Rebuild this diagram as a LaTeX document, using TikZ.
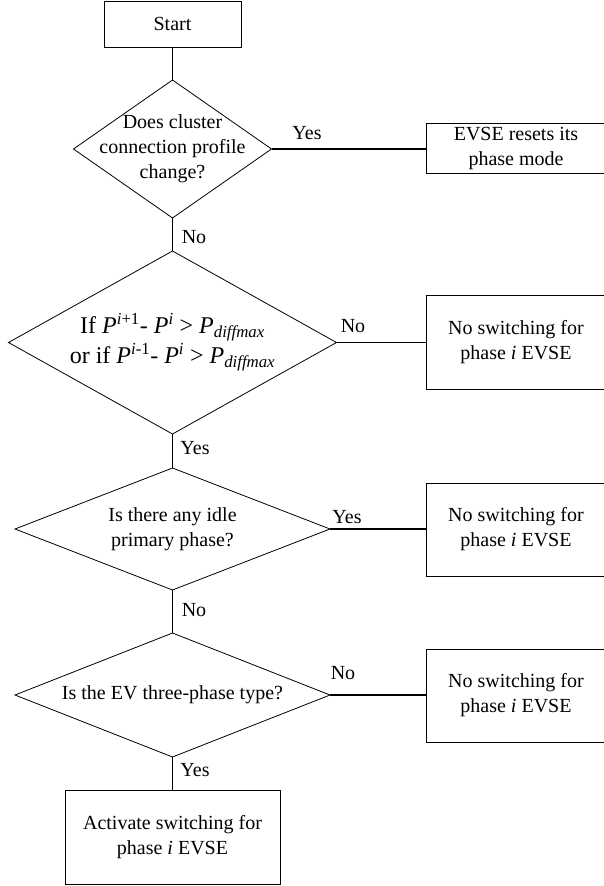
\documentclass[tikz,border=0pt]{standalone}
\usepackage{fontspec}
\setmainfont{Liberation Serif}
\usetikzlibrary{shapes.geometric}
\tikzset{box/.style = {draw, line width = 0.8pt, rectangle, inner sep = 0, align = center, font = \fontsize{20}{25}\selectfont}}
\tikzset{dia/.style = {draw, line width = 0.8pt, diamond, inner xsep = -80pt, inner ysep = -40pt, outer sep = 0, align = center, font = \fontsize{20}{25}\selectfont}}
\tikzset{link/.style = {line width = 1.3pt}}
\tikzset{lbl/.style = {inner sep = 0, font = \fontsize{20}{25}\selectfont}}
\newcommand{\Pdiff}{\textit{P}\textsubscript{\textit{diffmax}}}

\begin{document}
\begin{tikzpicture}[x=1pt, y=-1pt]
        \useasboundingbox (0,0) rectangle (603,886);
        \node [box, minimum width = 137, minimum height = 46] (start) at (172.5,24) {Start};
        \node [dia, minimum width = 198, minimum height = 138] (cluster) at (172.5,149) {Does cluster\\connection profile\\change?};
        \node [box, minimum width = 180, minimum height = 50] (reset) at (516,148.5) {EVSE resets its\\phase mode};
        \node [dia, minimum width = 328, minimum height = 183, font = \fontsize{24}{30}\selectfont] (diff) at (172.5,342.5) {If \textit{P}\textsuperscript{\textit{i}+1}- \textit{P}\textsuperscript{\textit{i}} > \Pdiff\\or if \textit{P}\textsuperscript{\textit{i}-1}- \textit{P}\textsuperscript{\textit{i}} > \Pdiff};
        \node [box, minimum width = 180, minimum height = 94] (noswA) at (516,342) {No switching for\\phase \textit{i} EVSE};
        \node [dia, minimum width = 315, minimum height = 122] (idle) at (172.5,529) {Is there any idle\\primary phase?};
        \node [box, minimum width = 180, minimum height = 93] (noswB) at (516,529.5) {No switching for\\phase \textit{i} EVSE};
        \node [dia, minimum width = 315, minimum height = 124] (three) at (172.5,695) {Is the EV three-phase type?};
        \node [box, minimum width = 180, minimum height = 93] (noswC) at (516,695.5) {No switching for\\phase \textit{i} EVSE};
        \node [box, minimum width = 215, minimum height = 94] (act) at (172.5,837) {Activate switching for\\phase \textit{i} EVSE};
        \draw [link] (start) -- (cluster);
        \draw [link] (cluster.east) -- (cluster.east -| reset.west) node [lbl] at (307,133) {Yes};
        \draw [link] (cluster) -- (diff) node [lbl] at (194,237) {No};
        \draw [link] (diff.east) -- (diff.east -| noswA.west) node [lbl] at (353,326) {No};
        \draw [link] (diff) -- (idle) node [lbl] at (195,448) {Yes};
        \draw [link] (idle.east) -- (idle.east -| noswB.west) node [lbl] at (347,517) {Yes};
        \draw [link] (idle) -- (three) node [lbl] at (194,610) {No};
        \draw [link] (three.east) -- (three.east -| noswC.west) node [lbl] at (343,673) {No};
        \draw [link] (three) -- (act) node [lbl] at (195,770) {Yes};
    \end{tikzpicture}
\end{document}
